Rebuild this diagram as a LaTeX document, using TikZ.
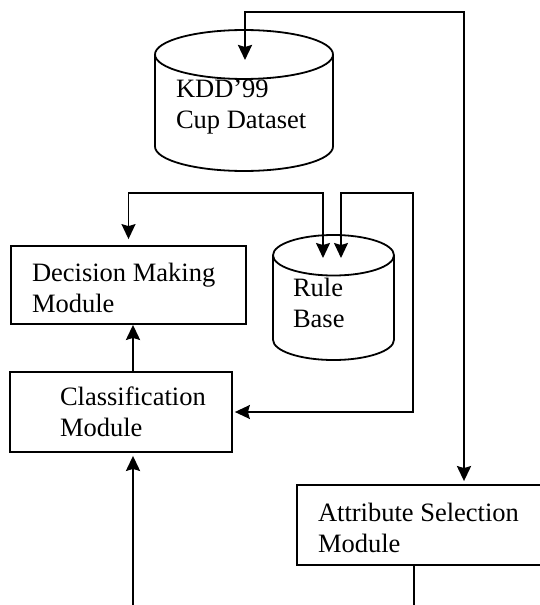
\documentclass[tikz,border=0pt]{standalone}
\usepackage{fontspec}
\setmainfont{Liberation Serif}
\usetikzlibrary{arrows.meta,shapes.geometric}
\hyphenpenalty=10000

\tikzstyle{module} = [draw, line width=1.8pt, align=flush left, inner sep=0pt]
\tikzstyle{store}  = [draw, cylinder, shape border rotate=90, anchor=shape center, line width=1.8pt, align=flush left, inner sep=0pt]
\tikzstyle{feed}   = [line width=2.4pt]
\tikzstyle{wire}   = [line width=1.5pt]

\begin{document}
\begin{tikzpicture}[x=1pt, y=-1pt,
    >={Stealth[length=15pt,width=14pt,inset=2pt]},
    font=\fontsize{26.5}{31}\selectfont]
  \useasboundingbox (0,0) rectangle (539,605);

  % data stores
  \node[store, text width=136pt, text depth=49pt, minimum width=178pt, minimum height=125pt, aspect=0.36] (kdd) at (244,100.5) {KDD'99\\Cup Dataset};
  \node[store, text width=81pt, text depth=41pt, minimum width=121pt, minimum height=125pt, aspect=0.5] (rules) at (333.5,297.5) {Rule\\Base};

  % modules
  \node[module, text width=193pt, text depth=25pt, minimum width=235pt, minimum height=78pt] (decide)   at (128.5,285) {Decision Making\\Module};
  \node[module, text width=122pt, minimum width=222pt, minimum height=80pt] (classify) at (121,412)   {Classification\\Module};
  \node[module, text width=208pt, text depth=25pt, minimum width=250pt, minimum height=80pt] (select)   at (422,525)   {Attribute Selection\\Module};

  % helper points
  \coordinate (kddin)    at (245,60);
  \coordinate (bus)      at (464,12);
  \coordinate (rulesL)   at (323,258);
  \coordinate (rulesR)   at (341,258);
  \coordinate (ruleloop) at (413,193);
  \coordinate (trunk)    at (133,605);
  \coordinate (out)      at (414,605);

  % dataset bus
  \draw[feed, <->, shorten >=3pt] (kddin) |- (bus) -- (bus |- select.north);

  % rule base loops
  \draw[wire, <->, shorten <=6pt] (decide.north) |- (rulesL |- ruleloop) -- (rulesL);
  \draw[wire, <->, shorten >=2pt] (rulesR) |- (ruleloop) |- (classify.east);

  % main trunk
  \draw[feed, ->, shorten >=3pt] (trunk) -- (trunk |- classify.south);
  \draw[feed, ->] (trunk |- classify.north) -- (trunk |- decide.south);
  \draw[line width=1.2pt] (out |- select.south) -- (out);
\end{tikzpicture}
\end{document}
